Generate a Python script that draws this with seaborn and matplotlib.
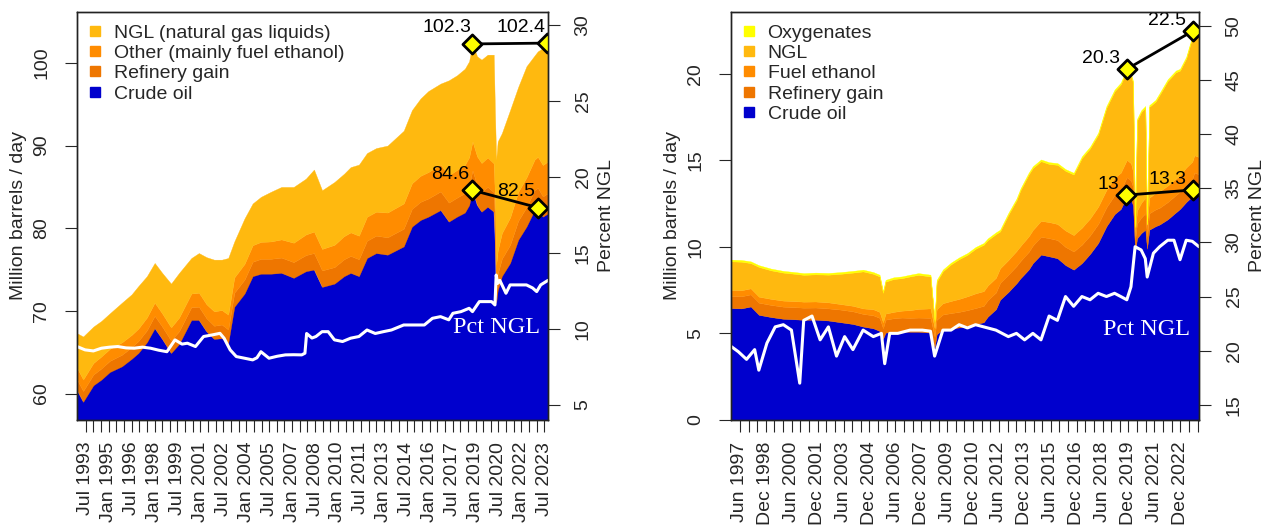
import matplotlib
matplotlib.use("Agg")
import matplotlib.pyplot as plt
import seaborn as sns
from matplotlib.lines import Line2D

sns.set_theme(style="ticks")
plt.rcParams['font.family'] = ['Liberation Sans', 'DejaVu Sans']
plt.rcParams['axes.edgecolor'] = '#222222'
plt.rcParams['axes.linewidth'] = 1.0

# ---------------- World (left panel) ----------------
w_dates = [1992.93, 1993.33, 1994.0, 1994.53, 1995.07, 1995.87, 1996.5, 1996.94, 1997.5, 1998.01,
           1998.5, 1999.08, 1999.61, 2000.41, 2000.9, 2001.4, 2001.9, 2002.4, 2002.82, 2003.22,
           2003.89, 2004.42, 2004.96, 2005.6, 2006.3, 2007.1, 2007.9, 2008.43, 2008.96, 2009.77,
           2010.4, 2010.83, 2011.37, 2011.9, 2012.5, 2013.24, 2014.3, 2014.84, 2015.4, 2015.91,
           2016.71, 2017.25, 2017.78, 2018.3, 2018.58, 2018.8, 2019.1, 2019.39, 2019.79, 2020.19,
           2020.27, 2020.35, 2020.45, 2020.72, 2021.26, 2021.79, 2022.33, 2022.86, 2023.07, 2023.4,
           2023.74]
w_crude = [60.4, 59.0, 61.0, 61.7, 62.6, 63.3, 64.2, 64.9, 66.2, 67.9,
           66.6, 64.9, 66.0, 68.9, 68.9, 67.5, 66.6, 66.7, 66.1, 70.5,
           72.1, 74.2, 74.5, 74.5, 74.6, 74.0, 74.8, 75.0, 72.9, 73.3,
           74.2, 74.6, 74.2, 76.4, 77.0, 76.8, 77.8, 80.2, 81.0, 81.4,
           82.2, 80.8, 81.4, 81.9, 82.8, 84.6, 82.8, 82.0, 82.6, 82.0,
           78.5, 71.0, 72.5, 74.2, 75.8, 78.6, 80.2, 82.2, 82.5, 81.4,
           81.8]
w_gain = [1.3, 1.3, 1.3, 1.35, 1.35, 1.4, 1.4, 1.45, 1.45, 1.5,
          1.5, 1.5, 1.55, 1.55, 1.6, 1.6, 1.6, 1.65, 1.65, 1.7,
          1.7, 1.75, 1.8, 1.8, 1.85, 1.9, 1.95, 2.0, 2.0, 2.0,
          2.05, 2.05, 2.05, 2.1, 2.1, 2.1, 2.15, 2.15, 2.2, 2.2,
          2.25, 2.3, 2.3, 2.35, 2.35, 2.4, 2.4, 2.4, 2.4, 2.35,
          2.1, 2.0, 2.0, 2.1, 2.2, 2.3, 2.35, 2.4, 2.4, 2.45,
          2.45]
w_other = [1.4, 1.4, 1.4, 1.45, 1.45, 1.5, 1.5, 1.5, 1.55, 1.6,
           1.6, 1.6, 1.65, 1.65, 1.7, 1.7, 1.75, 1.75, 1.8, 1.85,
           1.9, 2.0, 2.05, 2.1, 2.2, 2.35, 2.5, 2.6, 2.6, 2.7,
           2.8, 2.85, 2.85, 2.9, 2.9, 3.0, 3.05, 3.1, 3.15, 3.2,
           3.25, 3.3, 3.35, 3.4, 3.45, 3.5, 3.5, 3.5, 3.55, 3.5,
           3.0, 2.6, 2.8, 3.1, 3.3, 3.5, 3.6, 3.7, 3.75, 3.8,
           3.85]
w_ngl = [4.2, 5.2, 4.4, 4.3, 4.3, 4.8, 4.9, 5.15, 5.0, 4.8,
         4.9, 5.3, 5.4, 4.3, 4.8, 5.7, 6.25, 6.1, 6.85, 4.35,
         5.5, 5.05, 5.45, 6.0, 6.35, 6.75, 6.75, 7.5, 7.1, 7.6,
         7.55, 7.9, 8.6, 7.7, 7.7, 8.1, 8.8, 8.85, 9.35, 9.8,
         9.8, 11.5, 11.45, 11.65, 11.6, 11.8, 12.1, 12.5, 12.45, 13.15,
         10.4, 12.7, 13.2, 12.1, 13.0, 12.7, 13.45, 12.6, 12.75, 14.15,
         14.3]
w_pct_dates = [1992.93, 1993.46, 1994.0, 1994.53, 1995.07, 1995.6, 1996.14, 1996.67, 1997.21, 1997.74,
               1998.27, 1998.81, 1999.34, 1999.8, 2000.15, 2000.68, 2001.21, 2001.75, 2002.28, 2002.55,
               2002.95, 2003.35, 2003.89, 2004.42, 2004.7, 2004.96, 2005.49, 2006.03, 2006.56, 2007.1,
               2007.63, 2007.84, 2007.95, 2008.3, 2008.56, 2008.96, 2009.36, 2009.77, 2010.3, 2010.83,
               2011.37, 2011.9, 2012.44, 2012.97, 2013.5, 2014.3, 2015.11, 2015.65, 2016.18, 2016.71,
               2017.25, 2017.52, 2018.05, 2018.58, 2018.8, 2019.25, 2019.79, 2020.05, 2020.27, 2020.35,
               2020.45, 2020.59, 2020.99, 2021.26, 2021.79, 2022.33, 2022.73, 2023.0, 2023.26, 2023.74]
w_pct = [8.84, 8.62, 8.55, 8.73, 8.8, 8.84, 8.75, 8.73, 8.8, 8.73,
         8.6, 8.5, 9.28, 9.0, 9.06, 8.84, 9.5, 9.6, 9.71, 9.39,
         8.62, 8.18, 8.07, 7.96, 8.1, 8.5, 8.07, 8.2, 8.29, 8.3,
         8.29, 8.4, 9.7, 9.4, 9.5, 9.82, 9.82, 9.28, 9.17, 9.39,
         9.5, 9.93, 9.7, 9.82, 9.93, 10.26, 10.26, 10.26, 10.7, 10.81,
         10.6, 11.03, 11.14, 11.36, 11.14, 11.8, 11.8, 11.8, 11.58, 13.55,
         13.0, 13.2, 12.35, 12.9, 12.9, 12.9, 12.7, 12.46, 12.9, 13.2]
w_top_dates = [2018.8, 2023.67]
w_top_vals = [102.3, 102.4]
w_crude_ann_dates = [2018.8, 2023.07]
w_crude_ann_vals = [84.6, 82.5]
w_labels = ["NGL (natural gas liquids)", "Other (mainly fuel ethanol)", "Refinery gain", "Crude oil"]
w_xticklabels = ["Jul 1993", "Jan 1995", "Jul 1996", "Jan 1998", "Jul 1999", "Jan 2001", "Jul 2002",
                 "Jan 2004", "Jul 2005", "Jan 2007", "Jul 2008", "Jan 2010", "Jul 2011", "Jan 2013",
                 "Jul 2014", "Jan 2016", "Jul 2017", "Jan 2019", "Jul 2020", "Jan 2022", "Jul 2023"]

# ---------------- US (right panel) ----------------
u_dates = [1996.9, 1997.5, 1998.04, 1998.51, 1999.22, 1999.93, 2000.6, 2001.11, 2001.8, 2002.54,
           2003.25, 2003.96, 2004.55, 2005.14, 2005.5, 2005.7, 2005.85, 2006.32, 2006.8, 2007.27,
           2007.75, 2008.45, 2008.69, 2008.81, 2009.17, 2009.64, 2010.11, 2010.59, 2011.06, 2011.53,
           2011.77, 2012.24, 2012.48, 2012.96, 2013.43, 2013.67, 2014.14, 2014.38, 2014.85, 2015.32,
           2015.8, 2016.27, 2016.74, 2017.22, 2017.69, 2018.16, 2018.64, 2019.11, 2019.47, 2019.82,
           2020.06, 2020.18, 2020.3, 2020.41, 2020.65, 2020.89, 2020.99, 2021.12, 2021.48, 2021.72,
           2022.19, 2022.66, 2022.9, 2023.26, 2023.61, 2023.73, 2024.0]
u_crude = [6.47, 6.45, 6.56, 6.08, 5.95, 5.85, 5.82, 5.79, 5.80, 5.75,
           5.65, 5.55, 5.40, 5.30, 5.15, 4.70, 5.05, 5.10, 5.12, 5.10,
           5.10, 5.05, 4.20, 4.95, 5.25, 5.30, 5.35, 5.45, 5.55, 5.65,
           5.98, 6.40, 6.95, 7.40, 7.90, 8.20, 8.70, 9.07, 9.56, 9.46,
           9.35, 8.95, 8.69, 9.07, 9.60, 10.23, 11.20, 11.90, 12.20, 12.93,
           12.74, 12.40, 9.70, 10.50, 10.80, 11.00, 9.90, 11.00, 11.20, 11.30,
           11.60, 12.00, 12.20, 12.60, 12.93, 13.30, 13.20]
u_gain = [0.70, 0.70, 0.70, 0.70, 0.70, 0.70, 0.70, 0.70, 0.70, 0.70,
          0.73, 0.73, 0.73, 0.75, 0.75, 0.60, 0.75, 0.78, 0.80, 0.80,
          0.82, 0.85, 0.60, 0.85, 0.85, 0.88, 0.90, 0.90, 0.92, 0.95,
          0.95, 0.97, 0.97, 1.00, 1.00, 1.00, 1.02, 1.02, 1.03, 1.05,
          1.05, 1.05, 1.05, 1.07, 1.07, 1.10, 1.10, 1.10, 1.10, 1.10,
          1.10, 1.05, 0.70, 0.85, 0.90, 0.95, 0.70, 0.95, 0.97, 0.97,
          1.00, 1.00, 1.00, 1.00, 1.00, 1.00, 1.00]
u_ethanol = [0.35, 0.35, 0.35, 0.35, 0.35, 0.35, 0.35, 0.35, 0.35, 0.35,
             0.32, 0.32, 0.32, 0.35, 0.35, 0.35, 0.35, 0.37, 0.40, 0.45,
             0.50, 0.55, 0.50, 0.60, 0.65, 0.70, 0.75, 0.80, 0.85, 0.85,
             0.85, 0.85, 0.85, 0.85, 0.87, 0.87, 0.90, 0.90, 0.92, 0.93,
             0.93, 0.95, 0.95, 0.98, 0.98, 1.00, 1.00, 1.00, 1.00, 1.00,
             1.00, 0.90, 0.45, 0.75, 0.85, 0.90, 0.70, 0.90, 0.95, 0.95,
             0.95, 0.95, 0.95, 1.00, 1.00, 1.00, 1.00]
u_ngl = [1.65, 1.65, 1.46, 1.72, 1.65, 1.62, 1.58, 1.55, 1.57, 1.60,
         1.75, 1.92, 2.14, 2.05, 2.05, 1.70, 1.85, 1.90, 1.88, 1.95,
         1.97, 1.85, 0.40, 1.60, 1.85, 2.12, 2.30, 2.40, 2.58, 2.68,
         2.62, 2.53, 2.13, 2.62, 2.93, 3.23, 3.58, 3.58, 3.45, 3.36,
         3.42, 3.45, 3.50, 4.03, 4.05, 4.17, 4.75, 5.00, 5.10, 5.17,
         5.06, 5.15, 0.30, 5.20, 5.25, 5.20, 0.00, 5.25, 5.28, 5.58,
         6.05, 6.15, 6.05, 6.30, 7.17, 7.10, 7.20]
u_oxy = [0.10, 0.10, 0.10, 0.10, 0.10, 0.10, 0.10, 0.10, 0.10, 0.10,
         0.10, 0.10, 0.10, 0.10, 0.10, 0.10, 0.10, 0.10, 0.10, 0.10,
         0.10, 0.10, 0.10, 0.10, 0.10, 0.10, 0.10, 0.10, 0.10, 0.10,
         0.10, 0.10, 0.10, 0.10, 0.10, 0.10, 0.10, 0.10, 0.10, 0.10,
         0.10, 0.10, 0.10, 0.10, 0.10, 0.10, 0.10, 0.10, 0.10, 0.10,
         0.10, 0.10, 0.05, 0.10, 0.10, 0.10, 0.05, 0.10, 0.10, 0.10,
         0.10, 0.10, 0.10, 0.10, 0.10, 0.10, 0.10]
u_pct_dates = [1996.9, 1997.33, 1997.8, 1998.27, 1998.51, 1998.98, 1999.46, 1999.93, 2000.4, 2000.88,
               2001.11, 2001.59, 2002.06, 2002.54, 2003.01, 2003.48, 2003.96, 2004.55, 2005.14, 2005.61,
               2005.8, 2006.09, 2006.56, 2007.27, 2007.98, 2008.45, 2008.69, 2009.17, 2009.64, 2010.11,
               2010.59, 2011.06, 2011.53, 2012.24, 2012.96, 2013.43, 2013.9, 2014.38, 2014.85, 2015.32,
               2015.8, 2016.27, 2016.74, 2017.22, 2017.69, 2018.16, 2018.64, 2019.11, 2019.47, 2019.82,
               2020.06, 2020.3, 2020.65, 2020.89, 2021.0, 2021.36, 2021.72, 2022.19, 2022.55, 2022.9,
               2023.26, 2023.61, 2024.0]
u_pct = [20.4, 19.9, 19.2, 20.1, 18.2, 20.7, 22.2, 22.4, 21.9, 17.0,
         22.8, 23.2, 21.0, 22.2, 19.5, 21.3, 20.1, 21.9, 21.3, 21.6,
         18.8, 21.6, 21.6, 21.9, 21.9, 21.8, 19.5, 21.9, 21.9, 22.4,
         22.1, 22.4, 22.2, 21.9, 21.3, 21.6, 21.0, 21.6, 21.0, 23.2,
         22.8, 25.0, 24.1, 25.0, 24.7, 25.3, 25.0, 25.3, 25.0, 24.7,
         25.9, 29.6, 29.3, 28.5, 26.8, 29.0, 29.6, 30.2, 30.2, 28.4,
         30.2, 30.1, 29.6]
u_top_dates = [2019.85, 2023.67]
u_top_vals = [20.3, 22.5]
u_crude_ann_dates = [2019.8, 2023.67]
u_crude_ann_vals = [13.0, 13.3]
u_labels = ["Oxygenates", "NGL", "Fuel ethanol", "Refinery gain", "Crude oil"]
u_xticklabels = ["Jun 1997", "Dec 1998", "Jun 2000", "Dec 2001", "Jun 2003", "Dec 2004", "Jun 2006",
                 "Dec 2007", "Jun 2009", "Dec 2010", "Jun 2012", "Dec 2013", "Jun 2015", "Dec 2016",
                 "Jun 2018", "Dec 2019", "Jun 2021", "Dec 2022"]

# ---------------- styling ----------------
C_CRUDE = '#0000CD'
C_GAIN = '#EE7600'
C_OTHER = '#FF8C00'
C_NGL = '#FFB90F'
C_OXY = '#FFFF00'
FS = 14
MONTHS = {m: i for i, m in enumerate(["Jan", "Feb", "Mar", "Apr", "May", "Jun",
                                       "Jul", "Aug", "Sep", "Oct", "Nov", "Dec"])}


def month_pos(lbl):
    m, y = lbl.split()
    return int(y) + MONTHS[m] / 12.0


fig = plt.figure(figsize=(12.81, 5.29), dpi=100)
W, H = 1281.0, 529.0
axL = fig.add_axes([77 / W, 109 / H, 471 / W, 408.3 / H])
axR = fig.add_axes([731 / W, 109 / H, 468 / W, 408.3 / H])


def stack(ax, dates, layers, colors):
    polys = ax.stackplot(dates, *layers, colors=colors, linewidth=0)
    for p in polys:
        p.set_edgecolor(p.get_facecolor())
        p.set_linewidth(0.25)


def xaxis(ax, labels, xmin, xmax):
    first = month_pos(labels[0])
    ticks = []
    t = first
    while t <= xmax + 1e-6:
        ticks.append(t)
        t += 0.5
    labpos = [month_pos(l) for l in labels]
    ticklabels = []
    for t in ticks:
        lab = ''
        for p, l in zip(labpos, labels):
            if abs(p - t) < 1e-6:
                lab = l
        ticklabels.append(lab)
    ax.set_xticks(ticks)
    ax.set_xticklabels(ticklabels)
    ax.set_xlim(xmin, xmax)
    ax.tick_params(axis='x', labelrotation=90, length=8.6, width=0.8, pad=7, labelsize=FS,
                   direction='out')


def yaxis(ax, ticks, lim, side):
    ax.set_ylim(*lim)
    ax.set_yticks(ticks)
    ax.set_yticklabels([f"{t:g}" for t in ticks])
    ax.tick_params(axis='y', length=8.6, width=0.8, pad=10.5, labelsize=FS, direction='out')
    for lab in ax.get_yticklabels():
        lab.set_rotation(90)
        lab.set_va('center')
        lab.set_ha('right' if side == 'left' else 'left')


def diamonds(ax, xs, ys, dx, dy):
    sns.lineplot(x=xs, y=ys, ax=ax, color='black', linewidth=2.0, sort=False, estimator=None,
                 zorder=6)
    sns.scatterplot(x=xs, y=ys, ax=ax, marker='D', s=95, color='#FFFF00', edgecolor='black',
                    linewidth=2.0, zorder=7)
    for x, y in zip(xs, ys):
        ax.annotate(f"{y:g}", (x, y), xytext=(dx, dy), textcoords='offset points', ha='right',
                    va='center', fontsize=FS, color='black', zorder=8, annotation_clip=False)


def legend(ax, labels, colors, x, y):
    handles = [Line2D([], [], marker='s', linestyle='', color=c, markersize=7.5) for c in colors]
    leg = ax.legend(handles, labels, loc='upper left', bbox_to_anchor=(x, y), frameon=False,
                    fontsize=FS, handlelength=1.0, handletextpad=0.45, labelspacing=0.14,
                    borderpad=0, borderaxespad=0)
    leg.set_zorder(9)


# ----- left panel -----
stack(axL, w_dates, [w_crude, w_gain, w_other, w_ngl], [C_CRUDE, C_GAIN, C_OTHER, C_NGL])
xaxis(axL, w_xticklabels, 1992.93, 2023.74)
yaxis(axL, [60, 70, 80, 90, 100], (56.8, 106.2), 'left')
axL.set_ylabel('Million barrels / day', fontsize=FS, labelpad=5)
diamonds(axL, w_top_dates, w_top_vals, -1, 11.5)
diamonds(axL, w_crude_ann_dates, w_crude_ann_vals, -2, 11.5)
legend(axL, w_labels, [C_NGL, C_OTHER, C_GAIN, C_CRUDE], 0.018, 0.97)

axL2 = axL.twinx()
sns.lineplot(x=w_pct_dates, y=w_pct, ax=axL2, color='white', linewidth=2.2, sort=False,
             estimator=None)
yaxis(axL2, [5, 10, 15, 20, 25, 30], (4.0, 30.9), 'right')
axL2.set_ylabel('Percent NGL', fontsize=FS, labelpad=5)
axL2.text(2020.4, 10.07, 'Pct NGL', color='white', fontsize=17.5,
          family=['Liberation Serif', 'DejaVu Serif'], ha='center', va='center')

# ----- right panel -----
stack(axR, u_dates, [u_crude, u_gain, u_ethanol, u_ngl, u_oxy],
      [C_CRUDE, C_GAIN, C_OTHER, C_NGL, C_OXY])
xaxis(axR, u_xticklabels, 1996.9, 2024.0)
yaxis(axR, [0, 5, 10, 15, 20], (0, 23.6), 'left')
axR.set_ylabel('Million barrels / day', fontsize=FS, labelpad=5)
diamonds(axR, u_top_dates, u_top_vals, -5, 7.5)
diamonds(axR, u_crude_ann_dates, u_crude_ann_vals, -5, 7.5)
legend(axR, u_labels, [C_OXY, C_NGL, C_OTHER, C_GAIN, C_CRUDE], 0.018, 0.97)

axR2 = axR.twinx()
sns.lineplot(x=u_pct_dates, y=u_pct, ax=axR2, color='white', linewidth=2.2, sort=False,
             estimator=None)
yaxis(axR2, [15, 20, 25, 30, 35, 40, 45, 50], (13.6, 51.3), 'right')
axR2.set_ylabel('Percent NGL', fontsize=FS, labelpad=5)
axR2.text(2020.94, 22.0, 'Pct NGL', color='white', fontsize=17.5,
          family=['Liberation Serif', 'DejaVu Serif'], ha='center', va='center')

for a in (axL, axR, axL2, axR2):
    for s in a.spines.values():
        s.set_visible(True)
        s.set_color('#222222')
        s.set_linewidth(1.0)

fig.savefig('out.png', dpi=100)
